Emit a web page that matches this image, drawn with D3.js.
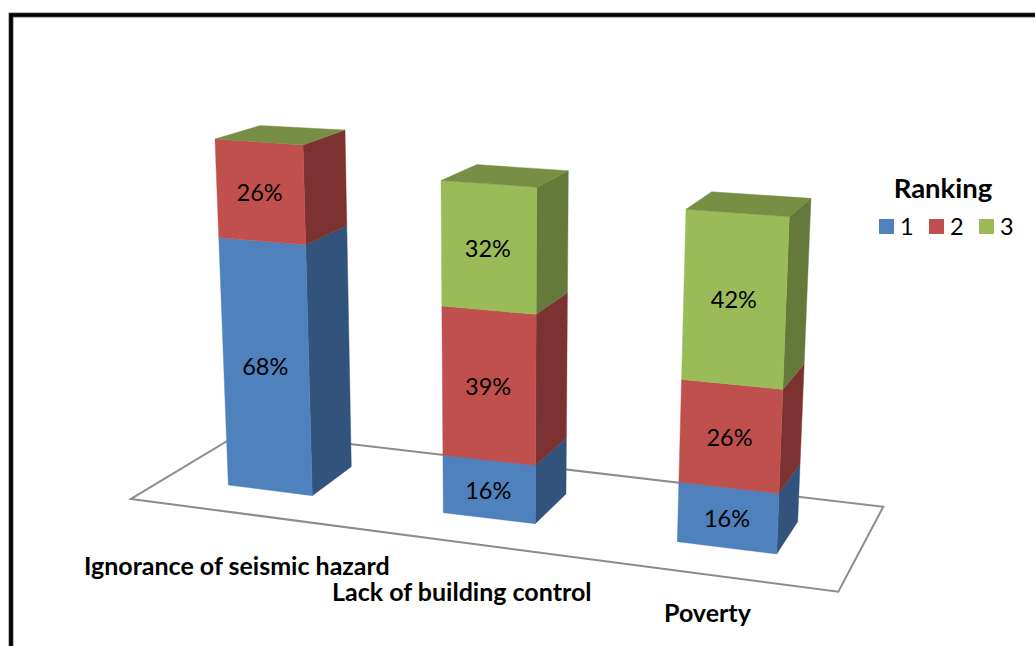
<!DOCTYPE html>
<html>
<head>
<meta charset="utf-8">
<script src="https://cdn.jsdelivr.net/npm/d3@7"></script>
<style>
html,body{margin:0;padding:0;background:#fff;}
svg{display:block;}
text{font-family:Lato,"Open Sans",sans-serif;fill:#000;}
</style>
</head>
<body>
<svg id="chart" width="1035" height="646"></svg>
<script>
// ---- data ----
const categories = ["Ignorance of seismic hazard", "Lack of building control", "Poverty"];
const rankings = ["1", "2", "3"];
const rank1 = [68, 16, 16];
const rank2 = [26, 39, 26];
const rank3 = [0, 32, 42];
const legendTitle = "Ranking";

// ---- colours ----
const frontColors = ["#4F81BD", "#C0504D", "#9BBB59"];
const sideColors = ["#32547C", "#7C3230", "#65793A"];
const topColor = "#788E44";

// ---- perspective layout: where each bar corner sits at value 0 and value 100 ----
const cornerBase = {
  fl: [[228.3, 485], [443.3, 512.7], [677.3, 541.7]],
  fr: [[312.3, 495.7], [535.3, 523.7], [776.7, 554]],
  br: [[351.3, 466.7], [566, 494], [797.7, 521.7]],
  bl: [[267.3, 456], [474, 483], [698.3, 509.4]]
};
const cornerFull = {
  fl: [[214.1, 116.1], [440.6, 129.1], [687.7, 143.6]],
  fr: [[302.4, 121.8], [536.9, 135], [791.8, 150]],
  br: [[344.6, 107.7], [568.7, 120.5], [813.6, 134.4]],
  bl: [[259.5, 103.7], [477.1, 115.2], [714.3, 128.9]]
};
const floorCorners = [[131, 499], [838.3, 591.7], [883.3, 506.7], [243, 431.5]];
const catLabelPos = [[84, 575], [332, 601], [664, 622]];

// ---- scales ----
const rows = categories.map((c, i) => ({category: c, "1": rank1[i], "2": rank2[i], "3": rank3[i]}));
const stacked = d3.stack().keys(rankings)(rows);
const height = d3.scalePow().exponent(1.035).domain([0, 100]).range([0, 1]); // foreshortening
const catScale = d3.scaleOrdinal(categories, d3.range(categories.length));
const frontColor = d3.scaleOrdinal(rankings, frontColors);
const sideColor = d3.scaleOrdinal(rankings, sideColors);
const legendX = d3.scalePoint().domain(rankings).range([879, 979]);

const corner = (name, cat, value) => {
  const i = catScale(cat);
  return d3.interpolateArray(cornerBase[name][i], cornerFull[name][i])(height(value));
};
const quad = d3.line().curve(d3.curveLinearClosed);

const svg = d3.select("#chart");

// frame
svg.append("path").attr("d", "M11,646V15H1035").attr("fill", "none").attr("stroke", "#777").attr("stroke-width", 5);
svg.append("path").attr("d", "M11,646V15H1035").attr("fill", "none").attr("stroke", "#000").attr("stroke-width", 3.6);

// floor
svg.append("path").attr("d", quad(floorCorners)).attr("fill", "#fff").attr("stroke", "#8C8C8C").attr("stroke-width", 2);

// bars
categories.forEach((cat, ci) => {
  const g = svg.append("g").attr("class", "bar");
  stacked.forEach(layer => {
    const [v0, v1] = layer[ci];
    if (v1 === v0) return;
    const side = [corner("fr", cat, v0), corner("br", cat, v0), corner("br", cat, v1), corner("fr", cat, v1)];
    const front = [corner("fl", cat, v0), corner("fr", cat, v0), corner("fr", cat, v1), corner("fl", cat, v1)];
    g.append("path").attr("d", quad(side)).attr("fill", sideColor(layer.key)).attr("stroke", sideColor(layer.key)).attr("stroke-width", 0.4);
    g.append("path").attr("d", quad(front)).attr("fill", frontColor(layer.key)).attr("stroke", frontColor(layer.key)).attr("stroke-width", 0.4);
  });
  const total = stacked[stacked.length - 1][ci][1];
  g.append("path")
    .attr("d", quad(["fl", "fr", "br", "bl"].map(n => corner(n, cat, total))))
    .attr("fill", topColor).attr("stroke", topColor).attr("stroke-width", 0.4);
  // value labels, centred on the front face of each segment
  stacked.forEach(layer => {
    const [v0, v1] = layer[ci];
    if (v1 === v0) return;
    const pts = [corner("fl", cat, v0), corner("fr", cat, v0), corner("fr", cat, v1), corner("fl", cat, v1)];
    g.append("text")
      .attr("x", d3.mean(pts, p => p[0]) - 1)
      .attr("y", d3.mean(pts, p => p[1]) + 9.5)
      .attr("text-anchor", "middle")
      .attr("font-size", 23.5)
      .text((v1 - v0) + "%");
  });
});

// category labels
svg.selectAll("text.cat").data(categories).join("text")
  .attr("class", "cat")
  .attr("x", (d, i) => catLabelPos[i][0])
  .attr("y", (d, i) => catLabelPos[i][1])
  .attr("font-size", 25)
  .attr("font-weight", 700)
  .text(d => d);

// legend
svg.append("text").attr("x", 943).attr("y", 198).attr("text-anchor", "middle")
  .attr("font-size", 27.5).attr("font-weight", 700).text(legendTitle);
rankings.forEach(r => {
  svg.append("rect").attr("x", legendX(r)).attr("y", 219).attr("width", 15).attr("height", 15).attr("fill", frontColor(r));
  svg.append("text").attr("x", legendX(r) + 21).attr("y", 235).attr("font-size", 23.5).text(r);
});
</script>
</body>
</html>
